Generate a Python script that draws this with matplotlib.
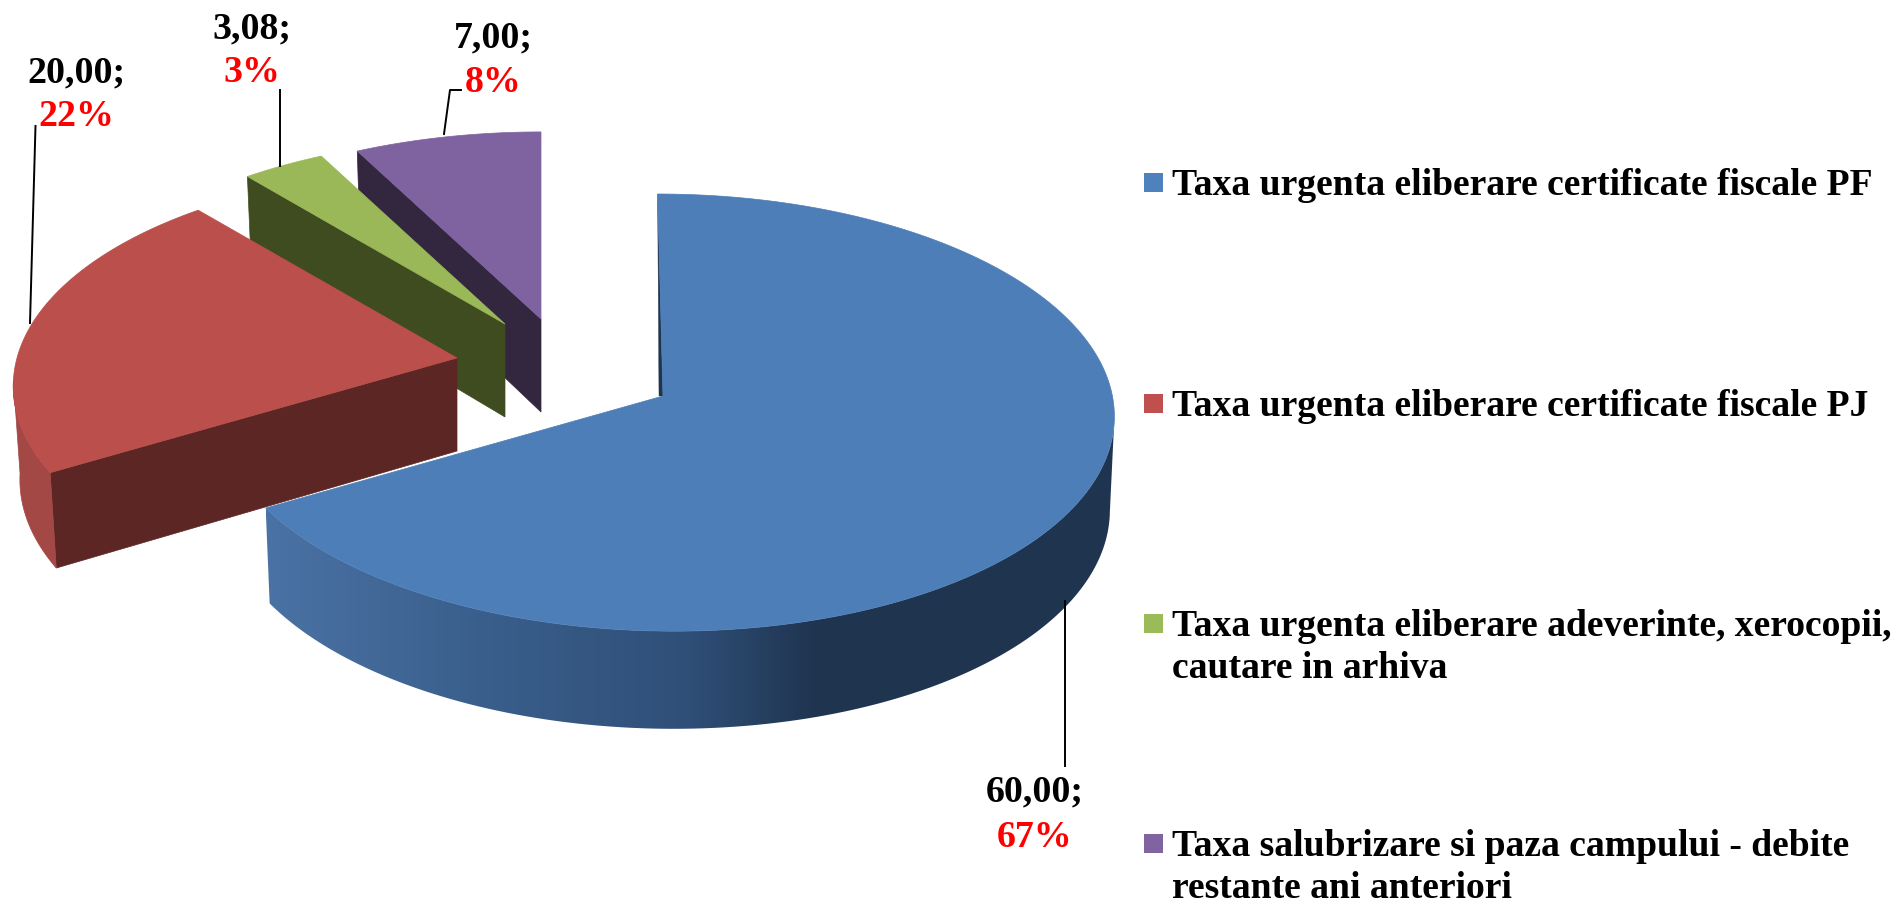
import numpy as np
import matplotlib
matplotlib.use('Agg')
import matplotlib.pyplot as plt
from matplotlib.colors import LinearSegmentedColormap
from matplotlib.patches import Polygon, Rectangle

# data
categories = [
    "Taxa urgenta eliberare certificate fiscale PF",
    "Taxa urgenta eliberare certificate fiscale PJ",
    "Taxa urgenta eliberare adeverinte, xerocopii,\ncautare in arhiva",
    "Taxa salubrizare si paza campului - debite\nrestante ani anteriori",
]
values = [60.00, 20.00, 3.08, 7.00]
value_labels = ["60,00;", "20,00;", "3,08;", "7,00;"]

# look of the slices
legend_colors = ['#4F81BD', '#C0504D', '#9BBB59', '#8064A2']
top_colors = ['#4D7EB8', '#BA4F4B', '#9BB859', '#7F63A0']
cut_colors = ['#1F344F', '#5C2624', '#3F4C20', '#33263F']

# where each slice sits once exploded, and how its tilted circle is bent
centers = [(665, 395), (457, 359), (505, 325), (541, 320)]
persp = [0.085, 0.13, 0.16, 0.16]
shear = [-8, 0, 0, 0]
radius_x = [447, 440, 447, 447]
radius_y = [217, 213, 217, 217]
bottom_shrink = [0.99, 0.985, 0.985, 0.985]
DEPTH = 93

plt.rcParams['font.family'] = ['Liberation Serif', 'DejaVu Serif']
fig = plt.figure(figsize=(18.96, 9.04), dpi=100)
ax = fig.add_axes([0, 0, 1, 1])


def rim(i, t):
    # point on the rim of slice i
    w = 1 + persp[i] * np.sin(t)
    x = centers[i][0] + (radius_x[i] * np.cos(t) + shear[i] * np.sin(t)) / w
    y = centers[i][1] - radius_y[i] * np.sin(t) / w
    return x, y


def drop(t):
    return DEPTH * (1 - 0.05 * np.sin(t))


def below(i, x, y, t):
    # same rim point on the bottom of the slice
    return centers[i][0] + (x - centers[i][0]) * bottom_shrink[i], y + drop(t)


total = sum(values)
angles = 90 - np.cumsum([0] + values) / total * 360

# back slices first, the big one goes on top
for i in [3, 2, 1, 0]:
    c = centers[i]
    t0, t1 = np.radians(angles[i]), np.radians(angles[i + 1])
    ts = np.linspace(t0, t1, 300)
    x, y = rim(i, ts)
    tip = (c[0] - 2, c[1] + 2) if i == 0 else c

    # cut face of the exploded slices
    if i > 0:
        px, py = rim(i, t0)
        bx, by = below(i, px, py, t0)
        ax.add_patch(Polygon([tip, (px, py), (bx, by), (c[0], c[1] + DEPTH)], closed=True,
                             fc=cut_colors[i], ec=cut_colors[i], lw=0.5, zorder=5 - i))

    # outer wall, only where the rim faces the viewer
    front = np.sin(ts) < -0.1
    if front.any():
        fx, fy = x[front], y[front]
        bx, by = below(i, fx, fy, ts[front])
        wall = np.column_stack([np.r_[fx, bx[::-1]], np.r_[fy, by[::-1]]])
        if i == 0:
            grad = np.linspace(0, 1, 256).reshape(1, -1)
            cmap = LinearSegmentedColormap.from_list(
                'wall', [(0, '#4A72A4'), (0.25, '#3A5F8C'), (0.5, '#2F4F78'), (0.65, '#1F344F'), (1, '#1F344F')])
            im = ax.imshow(grad, cmap=cmap, aspect='auto', zorder=5,
                           extent=[wall[:, 0].min(), wall[:, 0].max(), 904, 0])
            im.set_clip_path(Polygon(wall, closed=True, transform=ax.transData))
        else:
            ax.add_patch(Polygon(wall, closed=True, fc='#A34845', ec='#A34845', lw=0.5, zorder=5))

    # thin dark sliver along the straight back edge of the big slice
    if i == 0:
        px, py = rim(i, t0)
        ax.add_patch(Polygon([tip, (px, py), (tip[0] - 4, tip[1])], closed=True,
                             fc=cut_colors[0], ec=cut_colors[0], lw=0.3, zorder=6))

    ax.add_patch(Polygon(np.column_stack([np.r_[tip[0], x], np.r_[tip[1], y]]), closed=True,
                         fc=top_colors[i], ec=top_colors[i], lw=0.5, zorder=7 if i == 0 else 6))

ax.set_xlim(0, 1896)
ax.set_ylim(904, 0)
ax.axis('off')

# leader lines
leaders = [
    ([1065, 1065], [602, 767]),
    ([35.5, 30], [127, 324]),
    ([280, 280], [91, 167]),
    ([461, 450, 444], [91, 91, 135]),
]
for lx, ly in leaders:
    ax.plot(lx, ly, color='black', lw=1.4, zorder=8)

# data labels, value on top and share under it in red
label_xy = [(1035, 792, 838), (76, 73, 117), (252, 29, 73), (493, 38, 82)]
for i, (lx, ly1, ly2) in enumerate(label_xy):
    share = f"{round(values[i] / total * 100):d}%"
    ax.text(lx, ly1, value_labels[i], ha='center', va='center', fontsize=27.3,
            fontweight='bold', color='black', zorder=9)
    ax.text(lx, ly2, share, ha='center', va='center', fontsize=27.3,
            fontweight='bold', color='#FF0000', zorder=9)

# legend written by hand, the rows are far apart and the text wraps
legend_y = [183, 404, 624, 844]
for i, name in enumerate(categories):
    ax.add_patch(Rectangle((1144, legend_y[i] - 9.5), 19, 19, fc=legend_colors[i], ec='none', zorder=9))
    ax.text(1172, legend_y[i] - 15, name, ha='left', va='top', fontsize=27.1, fontweight='bold',
            color='black', linespacing=1.27, zorder=9)

fig.savefig('out.png', dpi=100)
